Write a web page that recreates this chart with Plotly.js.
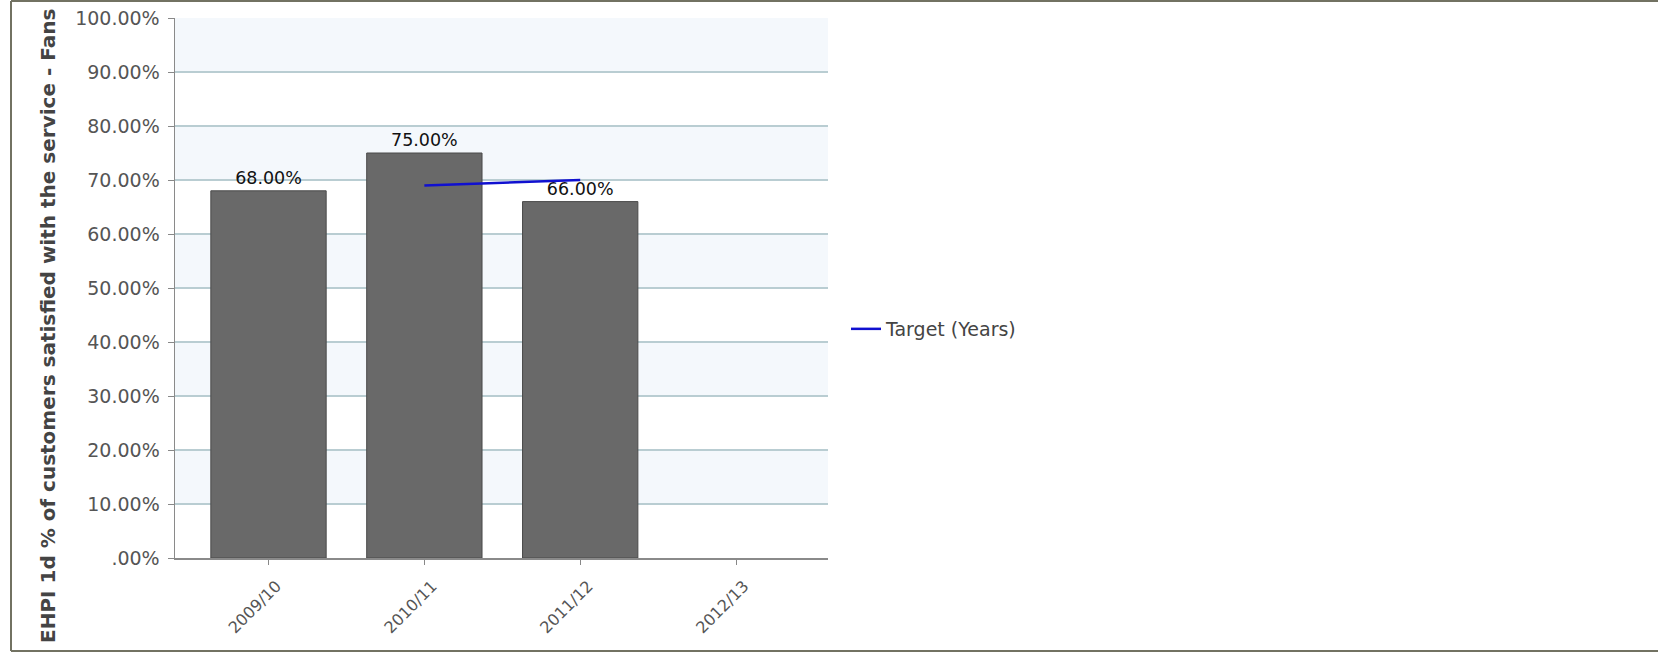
<!DOCTYPE html>
<html>
<head>
<meta charset="utf-8">
<script src="https://cdn.plot.ly/plotly-3.0.1.min.js"></script>
<style>
  html, body { margin: 0; padding: 0; background: #ffffff; }
  #chart { width: 1658px; height: 652px; }
</style>
</head>
<body>
<div id="chart"></div>
<script>
// ---- data ----
const categories = ["2009/10", "2010/11", "2011/12", "2012/13"];
const actualValues = [68, 75, 66, null];
const targetValues = [null, 69, 70, null];
const yTickValues = [0, 10, 20, 30, 40, 50, 60, 70, 80, 90, 100];
const yTickLabels = [".00%", "10.00%", "20.00%", "30.00%", "40.00%", "50.00%", "60.00%", "70.00%", "80.00%", "90.00%", "100.00%"];
const yAxisTitle = "EHPI 1d % of customers satisfied with the service - Fans";
const targetName = "Target (Years)";

// ---- layout geometry ----
const W = 1658, H = 652;
const M = { l: 175, r: 830, t: 18, b: 94 };
const pw = W - M.l - M.r, ph = H - M.t - M.b;
const px2x = x => (x - M.l) / pw;
const py2y = y => (H - M.b - y) / ph;

const FONT = "DejaVu Sans, Verdana, sans-serif";

const barText = actualValues.map(v => v == null ? "" : v.toFixed(2) + "%");

const bars = {
  type: "bar",
  x: categories,
  y: actualValues,
  width: 0.74,
  marker: { color: "#696969", line: { color: "#4a4a4a", width: 1 } },
  text: barText,
  textposition: "outside",
  cliponaxis: false,
  textfont: { family: FONT, size: 17.5, color: "#111111" },
  showlegend: false,
  hoverinfo: "skip"
};

const target = {
  type: "scatter",
  mode: "lines",
  x: categories,
  y: targetValues,
  name: targetName,
  line: { color: "#1010d0", width: 2.5 },
  showlegend: true,
  hoverinfo: "skip"
};

// alternating background bands
const shapes = [];
for (let i = 0; i + 1 < yTickValues.length; i++) {
  if ((yTickValues.length - 2 - i) % 2 === 0) {
    shapes.push({
      type: "rect", layer: "below", xref: "paper", yref: "y",
      x0: 0, x1: 1, y0: yTickValues[i], y1: yTickValues[i + 1],
      fillcolor: "#f4f8fc", line: { width: 0 }
    });
  }
}
// outer frame (top, left, bottom)
const frameColor = "#727262";
shapes.push({ type: "line", xref: "paper", yref: "paper", x0: px2x(11), x1: px2x(W), y0: py2y(1), y1: py2y(1), line: { color: frameColor, width: 2 } });
shapes.push({ type: "line", xref: "paper", yref: "paper", x0: px2x(11), x1: px2x(11), y0: py2y(1), y1: py2y(651), line: { color: frameColor, width: 2 } });
shapes.push({ type: "line", xref: "paper", yref: "paper", x0: px2x(11), x1: px2x(W), y0: py2y(651), y1: py2y(651), line: { color: frameColor, width: 2 } });

const layout = {
  width: W, height: H,
  margin: M,
  paper_bgcolor: "#ffffff",
  plot_bgcolor: "#ffffff",
  font: { family: FONT, color: "#555555" },
  hovermode: false,
  xaxis: {
    type: "category",
    range: [-0.6, 3.59],
    tickangle: -45,
    tickfont: { family: FONT, size: 16, color: "#555555" },
    ticks: "outside", ticklen: 5, tickcolor: "#888888",
    ticklabelshift: 8, ticklabelstandoff: 6,
    showline: true, linecolor: "#8a8a8a", linewidth: 1.5,
    showgrid: false, zeroline: false, fixedrange: true
  },
  yaxis: {
    range: [0, 100],
    tickmode: "array",
    tickvals: yTickValues,
    ticktext: yTickLabels,
    tickfont: { family: FONT, size: 19, color: "#555555" },
    ticks: "outside", ticklen: 6, tickcolor: "#888888",
    ticklabelstandoff: 4,
    showline: true, linecolor: "#8a8a8a", linewidth: 1.5,
    showgrid: true, gridcolor: "#b9cdd2", gridwidth: 1.2,
    zeroline: false, fixedrange: true
  },
  legend: {
    x: px2x(846), xanchor: "left",
    y: py2y(329), yanchor: "middle",
    font: { family: FONT, size: 19, color: "#444444" },
    bgcolor: "rgba(0,0,0,0)"
  },
  annotations: [{
    text: "<b>" + yAxisTitle + "</b>",
    xref: "paper", yref: "paper",
    x: px2x(48), xanchor: "center",
    y: py2y(645), yanchor: "bottom",
    textangle: -90, showarrow: false,
    font: { family: FONT, size: 20, color: "#444444" }
  }],
  shapes: shapes
};

Plotly.newPlot("chart", [bars, target], layout, { displayModeBar: false, staticPlot: true });
</script>
</body>
</html>
